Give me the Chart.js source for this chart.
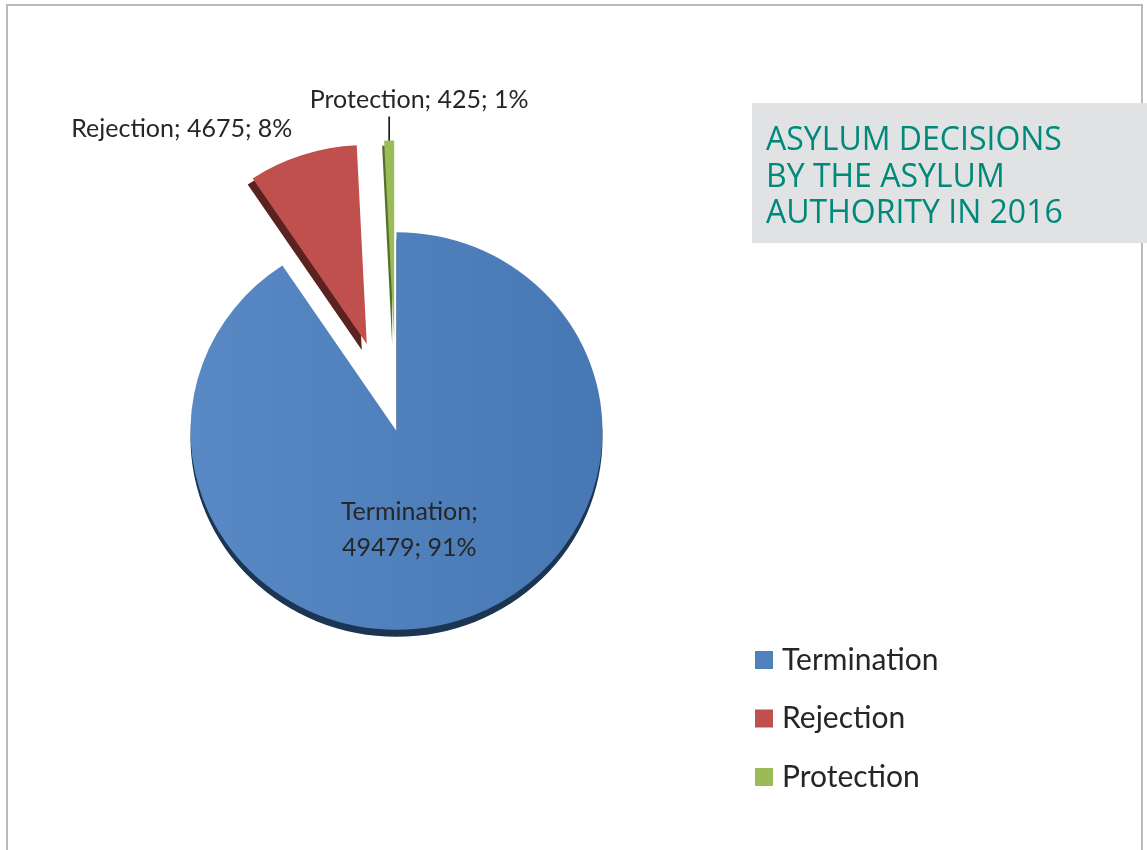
<!DOCTYPE html>
<html>
<head>
<meta charset="utf-8">
<script src="https://cdn.jsdelivr.net/npm/chart.js@4.4.1/dist/chart.umd.min.js"></script>
<style>
  html, body { margin: 0; padding: 0; background: #fff; }
  #wrap { position: relative; width: 1147px; height: 850px; }
</style>
</head>
<body>
<div id="wrap"><canvas id="chart" width="1147" height="850"></canvas></div>
<script>
const categories = ['Termination', 'Rejection', 'Protection']
const decisions = [49479, 4675, 425]
const shares = [91, 8, 1]
const titleLines = ['ASYLUM DECISIONS', 'BY THE ASYLUM', 'AUTHORITY IN 2016']

const faceColors = ['#4F81BD', '#C0504D', '#9BBB59']
const sideColors = ['#1B3553', '#5B2220', '#55702C']
const explode = [0, 95, 95]          // px each slice is pulled out
const depth = [[0, 7], [-5, 6], [-2, 5]]
const tilt = 0.965                   // squash the pie a bit, like the 3d original
const labelFont = '25px Lato'
const inkColor = '#262626'

function sliceLabel(i) {
  return `${categories[i]}; ${decisions[i]}; ${shares[i]}%`
}

function arcGeometry(arc, i) {
  const p = arc.getProps(['x', 'y', 'startAngle', 'endAngle', 'outerRadius'], true)
  const mid = (p.startAngle + p.endAngle) / 2
  return {
    x: p.x, y: p.y, r: p.outerRadius,
    start: p.startAngle, end: p.endAngle, mid: mid,
    dx: Math.cos(mid) * explode[i],
    dy: Math.sin(mid) * explode[i]
  }
}

// point at distance d from the pie centre along angle a, after the tilt
function project(g, a, d) {
  return { x: g.x + Math.cos(a) * d, y: g.y + Math.sin(a) * d * tilt }
}

function withTilt(ctx, g, fn) {
  ctx.save()
  ctx.translate(g.x, g.y)
  ctx.scale(1, tilt)
  ctx.translate(-g.x, -g.y)
  fn()
  ctx.restore()
}

const framePlugin = {
  id: 'frame',
  beforeDraw(chart) {
    const ctx = chart.ctx
    ctx.save()
    ctx.strokeStyle = '#BABABA'
    ctx.lineWidth = 2
    ctx.strokeRect(7, 5, 1135, 900)
    ctx.restore()
  }
}

// draw the slices ourselves so they can be exploded and given a dark edge
const piePlugin = {
  id: 'explodedPie',
  beforeDatasetsDraw(chart) {
    const ctx = chart.ctx
    const arcs = chart.getDatasetMeta(0).data
    arcs.forEach((arc, i) => {
      const g = arcGeometry(arc, i)
      withTilt(ctx, g, () => {
        ctx.translate(g.dx + depth[i][0], g.dy + depth[i][1] / tilt)
        ctx.fillStyle = sideColors[i]
        ctx.beginPath()
        ctx.moveTo(g.x, g.y)
        ctx.arc(g.x, g.y, g.r, g.start, g.end)
        ctx.closePath()
        ctx.fill()
      })
    })
    arcs.forEach((arc, i) => {
      const g = arcGeometry(arc, i)
      withTilt(ctx, g, () => {
        ctx.translate(g.dx, g.dy)
        arc.draw(ctx)
      })
    })
    return false
  }
}

const labelPlugin = {
  id: 'sliceLabels',
  afterDraw(chart) {
    const ctx = chart.ctx
    const arcs = chart.getDatasetMeta(0).data
    ctx.save()
    ctx.font = labelFont
    ctx.fillStyle = inkColor
    ctx.textBaseline = 'middle'

    // big slice: inside, two lines
    let g = arcGeometry(arcs[0], 0)
    const inner = project(g, g.mid, g.r / 2)
    ctx.textAlign = 'center'
    ctx.fillText(`${categories[0]};`, inner.x - 17, inner.y - 14)
    ctx.fillText(`${decisions[0]}; ${shares[0]}%`, inner.x - 17, inner.y + 22)

    // rejection: outside, up and to the left
    g = arcGeometry(arcs[1], 1)
    let tip = project(g, g.mid, g.r + explode[1])
    ctx.textAlign = 'right'
    ctx.fillText(sliceLabel(1), tip.x - 10, tip.y - 26)

    // protection: leader line straight up
    g = arcGeometry(arcs[2], 2)
    tip = project(g, g.mid, g.r + explode[2])
    ctx.strokeStyle = '#000'
    ctx.lineWidth = 1.5
    ctx.beginPath()
    ctx.moveTo(tip.x, tip.y)
    ctx.lineTo(tip.x, tip.y - 24)
    ctx.stroke()
    ctx.textAlign = 'center'
    ctx.fillText(sliceLabel(2), tip.x + 30, tip.y - 41)
    ctx.restore()
  }
}

const sidePlugin = {
  id: 'sidePanel',
  afterDraw(chart) {
    const ctx = chart.ctx
    ctx.save()
    // title box
    ctx.fillStyle = '#E1E2E3'
    ctx.fillRect(752, 103, 395, 140)
    ctx.fillStyle = '#00897B'
    ctx.font = '32px "Open Sans"'
    ctx.textAlign = 'left'
    ctx.textBaseline = 'middle'
    titleLines.forEach((line, i) => ctx.fillText(line, 766, 141 + i * 36.5))

    // legend
    ctx.font = '30px Lato'
    categories.forEach((cat, i) => {
      const y = 660 + i * 58.5
      ctx.fillStyle = faceColors[i]
      ctx.fillRect(755, y - 9, 18, 18)
      ctx.fillStyle = inkColor
      ctx.fillText(cat, 782, y)
    })
    ctx.restore()
  }
}

const ctx = document.getElementById('chart').getContext('2d')
const blueFill = ctx.createLinearGradient(192, 0, 604, 0)
blueFill.addColorStop(0, '#5889C4')
blueFill.addColorStop(1, '#4878B4')

new Chart(ctx, {
  type: 'pie',
  data: {
    labels: categories,
    datasets: [{
      data: decisions,
      backgroundColor: [blueFill, faceColors[1], faceColors[2]],
      borderWidth: 0
    }]
  },
  options: {
    responsive: false,
    animation: false,
    radius: 206,
    layout: { padding: { left: 100, top: 140, right: 454, bottom: 128 } },
    plugins: {
      legend: { display: false },
      title: { display: false },
      tooltip: { enabled: false }
    }
  },
  plugins: [framePlugin, piePlugin, labelPlugin, sidePlugin]
})
</script>
</body>
</html>
